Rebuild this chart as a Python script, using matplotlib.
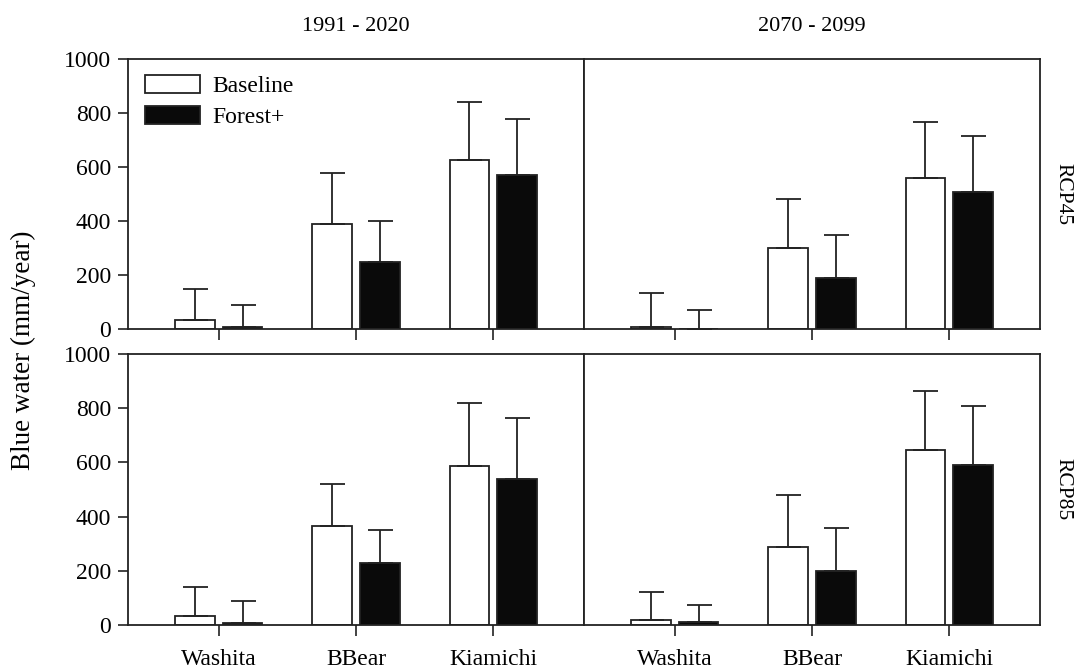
import numpy as np
import matplotlib.pyplot as plt

plt.rcParams['font.family'] = ['Liberation Serif', 'DejaVu Serif']

sites = ["Washita", "BBear", "Kiamichi"]
periods = ["1991 - 2020", "2070 - 2099"]
scenarios = ["RCP45", "RCP85"]

# baseline / forest+ means and upper error bar tops, per scenario and period
rcp45_hist_base = [34, 390, 625]
rcp45_hist_base_top = [150, 578, 840]
rcp45_hist_forest = [8, 248, 572]
rcp45_hist_forest_top = [90, 400, 778]

rcp45_fut_base = [8, 300, 560]
rcp45_fut_base_top = [135, 480, 768]
rcp45_fut_forest = [1, 188, 507]
rcp45_fut_forest_top = [72, 348, 713]

rcp85_hist_base = [32, 367, 588]
rcp85_hist_base_top = [142, 520, 820]
rcp85_hist_forest = [8, 230, 537]
rcp85_hist_forest_top = [90, 350, 762]

rcp85_fut_base = [18, 288, 645]
rcp85_fut_base_top = [122, 480, 865]
rcp85_fut_forest = [10, 198, 590]
rcp85_fut_forest_top = [75, 358, 808]

panels = [
    [(rcp45_hist_base, rcp45_hist_base_top, rcp45_hist_forest, rcp45_hist_forest_top),
     (rcp45_fut_base, rcp45_fut_base_top, rcp45_fut_forest, rcp45_fut_forest_top)],
    [(rcp85_hist_base, rcp85_hist_base_top, rcp85_hist_forest, rcp85_hist_forest_top),
     (rcp85_fut_base, rcp85_fut_base_top, rcp85_fut_forest, rcp85_fut_forest_top)],
]

fig = plt.figure(figsize=(10.77, 6.68), dpi=100)
W, H = 1077, 668
left_px, mid_px, right_px = 128, 584, 1040
rows_px = [(59, 329), (354, 625)]

x = np.arange(3)
bw = 0.285
off = 0.175
edge = '#222222'

for r, (top, bot) in enumerate(rows_px):
    for c in range(2):
        x0 = left_px if c == 0 else mid_px
        x1 = mid_px if c == 0 else right_px
        ax = fig.add_axes([x0 / W, (H - bot) / H, (x1 - x0) / W, (bot - top) / H])
        base, base_top, forest, forest_top = panels[r][c]
        base = np.array(base)
        forest = np.array(forest)
        ax.bar(x - off, base, bw, color='white', edgecolor=edge, linewidth=1.3,
               label='Baseline', zorder=2)
        ax.bar(x + off, forest, bw, color='#0a0a0a', edgecolor=edge, linewidth=1.3,
               label='Forest+', zorder=2)
        ax.errorbar(x - off, base, yerr=[np.zeros(3), np.array(base_top) - base],
                    fmt='none', ecolor=edge, elinewidth=1.3, capsize=9, capthick=1.3, zorder=3)
        ax.errorbar(x + off, forest, yerr=[np.zeros(3), np.array(forest_top) - forest],
                    fmt='none', ecolor=edge, elinewidth=1.3, capsize=9, capthick=1.3, zorder=3)
        ax.set_xlim(-0.664, 2.664)
        ax.set_ylim(0, 1000)
        ax.set_xticks(x)
        if r == 1:
            ax.set_xticklabels(sites, fontsize=17)
        else:
            ax.set_xticklabels([])
        ax.tick_params(axis='x', direction='out', length=8, width=1.2, color=edge, pad=9)
        if c == 0:
            ax.set_yticks([0, 200, 400, 600, 800, 1000])
            ax.tick_params(axis='y', direction='out', length=7, width=1.2, color=edge,
                           labelsize=17, pad=5)
        else:
            ax.set_yticks([])
        for s in ax.spines.values():
            s.set_linewidth(1.3)
            s.set_color(edge)
        if r == 0:
            ax.set_title(periods[c], fontsize=16, pad=20)
        if c == 1:
            ax.text(1.05, 0.5, scenarios[r], transform=ax.transAxes, rotation=270,
                    ha='center', va='center', fontsize=15.5)
        if r == 0 and c == 0:
            ax.legend(loc='upper left', frameon=False, fontsize=17, handlelength=2.3,
                      handleheight=0.8, borderaxespad=0.0, labelspacing=0.35,
                      handletextpad=0.55, bbox_to_anchor=(0.017, 0.975))

fig.text(0.022, 0.475, 'Blue water (mm/year)', rotation=90, ha='center', va='center',
         fontsize=19.5)

fig.savefig('out.png', dpi=100)
